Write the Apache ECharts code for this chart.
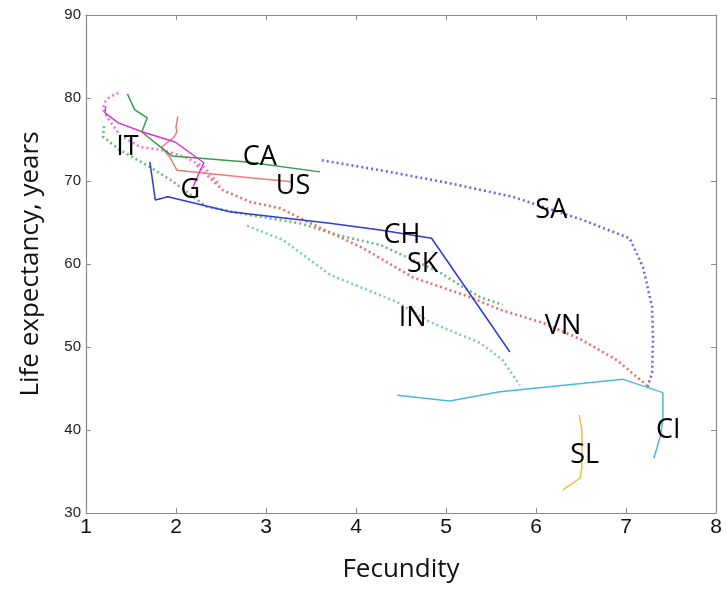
<!DOCTYPE html>
<html>
<head>
<meta charset="utf-8">
<script src="https://cdn.jsdelivr.net/npm/echarts@6/dist/echarts.min.js"></script>
<style>
  html, body { margin: 0; padding: 0; background: #fff; }
  #chart { width: 727px; height: 593px; }
</style>
</head>
<body>
<div id="chart"></div>
<script>
// trajectories: [fecundity, life expectancy]
var caLine = [[1.46, 80.5], [1.54, 78.6], [1.68, 77.6], [1.62, 75.9], [1.84, 74.0], [1.96, 73.0], [2.79, 72.3], [3.6, 71.1]];
var usLine = [[2.02, 77.8], [2.0, 76.5], [2.01, 75.9], [1.97, 75.2], [1.84, 74.1], [1.93, 72.9], [2.01, 71.3], [2.82, 70.4], [3.29, 69.9]];
var itLine = [[1.22, 79.0], [1.21, 78.2], [1.36, 77.0], [1.63, 75.9], [1.99, 74.7], [2.31, 72.2], [2.27, 71.3], [2.19, 69.3]];
var chLine = [[1.71, 72.3], [1.77, 67.7], [1.91, 68.1], [2.6, 66.3], [3.71, 64.9], [4.27, 64.1], [4.84, 63.1], [5.71, 49.4]];
var ciLine = [[4.46, 44.2], [5.04, 43.5], [5.6, 44.6], [6.97, 46.1], [7.41, 44.5], [7.41, 41.2], [7.38, 39.2], [7.31, 36.6]];
var slLine = [[6.48, 41.8], [6.51, 40.0], [6.51, 35.5], [6.49, 34.2], [6.3, 32.8]];
var saLine = [[3.62, 72.5], [4.27, 71.3], [5.01, 69.8], [5.74, 68.1], [6.52, 65.3], [7.04, 63.1], [7.19, 59.6], [7.29, 54.8], [7.3, 50.8], [7.29, 46.9], [7.24, 45.2]];
var vnLine = [[2.23, 71.9], [2.52, 68.9], [2.82, 67.5], [3.16, 66.7], [3.46, 65.1], [4.08, 61.9], [4.63, 58.4], [5.27, 56.0], [5.6, 54.5], [6.08, 52.9], [6.52, 50.8], [6.9, 48.4], [7.23, 45.4]];
var skLine = [[1.2, 76.6], [1.19, 75.3], [1.38, 73.7], [1.68, 71.9], [1.97, 69.9], [2.34, 66.9], [2.82, 65.9], [3.38, 64.9], [3.79, 63.5], [4.27, 62.3], [4.63, 60.5], [4.93, 59.0], [5.19, 57.2], [5.38, 56.0], [5.63, 55.1]];
var inLine = [[2.79, 64.6], [3.19, 62.9], [3.71, 58.7], [4.46, 55.4], [4.82, 53.0], [5.38, 50.5], [5.63, 48.4], [5.82, 45.4]];
var gLine = [[1.36, 80.6], [1.27, 80.2], [1.2, 79.4], [1.19, 78.6], [1.24, 77.6], [1.38, 75.5], [1.6, 74.1], [1.86, 73.7], [2.1, 72.9], [2.32, 71.6], [2.49, 69.5]];

var labelNames = ['IT', 'G', 'CA', 'US', 'CH', 'SK', 'IN', 'SA', 'VN', 'CI', 'SL'];
var labelPos = [[1.46, 74.0], [2.16, 68.9], [2.93, 72.8], [3.3, 69.4], [4.51, 63.5], [4.74, 60.0], [4.63, 53.5], [6.17, 66.5], [6.3, 52.5], [7.47, 40.0], [6.54, 37.0]];

var chart = echarts.init(document.getElementById('chart'));

function solid(data, color) {
    return {
        type: 'line', data: data, showSymbol: false, silent: true,
        lineStyle: { color: color, width: 1.5 }
    };
}
function dotted(data, color) {
    return {
        type: 'line', data: data, showSymbol: false, silent: true,
        lineStyle: { color: color, width: 2.6, type: [2, 3] }
    };
}

var axisLine = { show: true, lineStyle: { color: '#8a8a8a', width: 1.2 } };
var axisTick = { show: true, inside: true, length: 5, lineStyle: { color: '#8a8a8a' } };

var option = {
    animation: false,
    backgroundColor: '#fff',
    grid: { left: 86, right: 11, top: 15, bottom: 80 },
    xAxis: [{
        type: 'value', min: 1, max: 8, interval: 1,
        name: 'Fecundity', nameLocation: 'middle', nameGap: 44,
        nameTextStyle: { fontFamily: 'Open Sans', fontSize: 26, color: '#111' },
        axisLine: axisLine, axisTick: axisTick, splitLine: { show: false },
        axisLabel: { fontFamily: 'Liberation Sans', fontSize: 21, color: '#111', margin: 4 }
    }, {
        type: 'value', min: 1, max: 8, interval: 1, position: 'top',
        axisLine: axisLine, axisTick: axisTick, splitLine: { show: false },
        axisLabel: { show: false }
    }],
    yAxis: [{
        type: 'value', min: 30, max: 90, interval: 10,
        name: 'Life expectancy, years', nameLocation: 'middle', nameGap: 42,
        nameTextStyle: { fontFamily: 'Open Sans', fontSize: 26, color: '#111' },
        axisLine: axisLine, axisTick: axisTick, splitLine: { show: false },
        axisLabel: { fontFamily: 'Liberation Sans', fontSize: 15, color: '#222', margin: 5 }
    }, {
        type: 'value', min: 30, max: 90, interval: 10, position: 'right',
        axisLine: axisLine, axisTick: axisTick, splitLine: { show: false },
        axisLabel: { show: false }
    }],
    series: [
        dotted(gLine, '#f070ee'),
        dotted(skLine, '#6cba78'),
        dotted(inLine, '#7cc8cc'),
        dotted(vnLine, '#f06a6a'),
        dotted(saLine, '#6a6ae8'),
        solid(usLine, '#f07a7a'),
        solid(caLine, '#3a9a4a'),
        solid(itLine, '#e030d8'),
        solid(chLine, '#2a3bd8'),
        solid(ciLine, '#4ab8d8'),
        solid(slLine, '#f2c040'),
        {
            type: 'scatter', symbolSize: 0, silent: true,
            data: labelNames.map(function (n, i) { return { name: n, value: labelPos[i] }; }),
            label: {
                show: true, position: 'inside', formatter: '{b}',
                fontFamily: 'Open Sans', fontSize: 27, color: '#000',
                textBorderWidth: 0, opacity: 1
            },
            z: 5
        }
    ]
};
chart.setOption(option);
</script>
</body>
</html>
